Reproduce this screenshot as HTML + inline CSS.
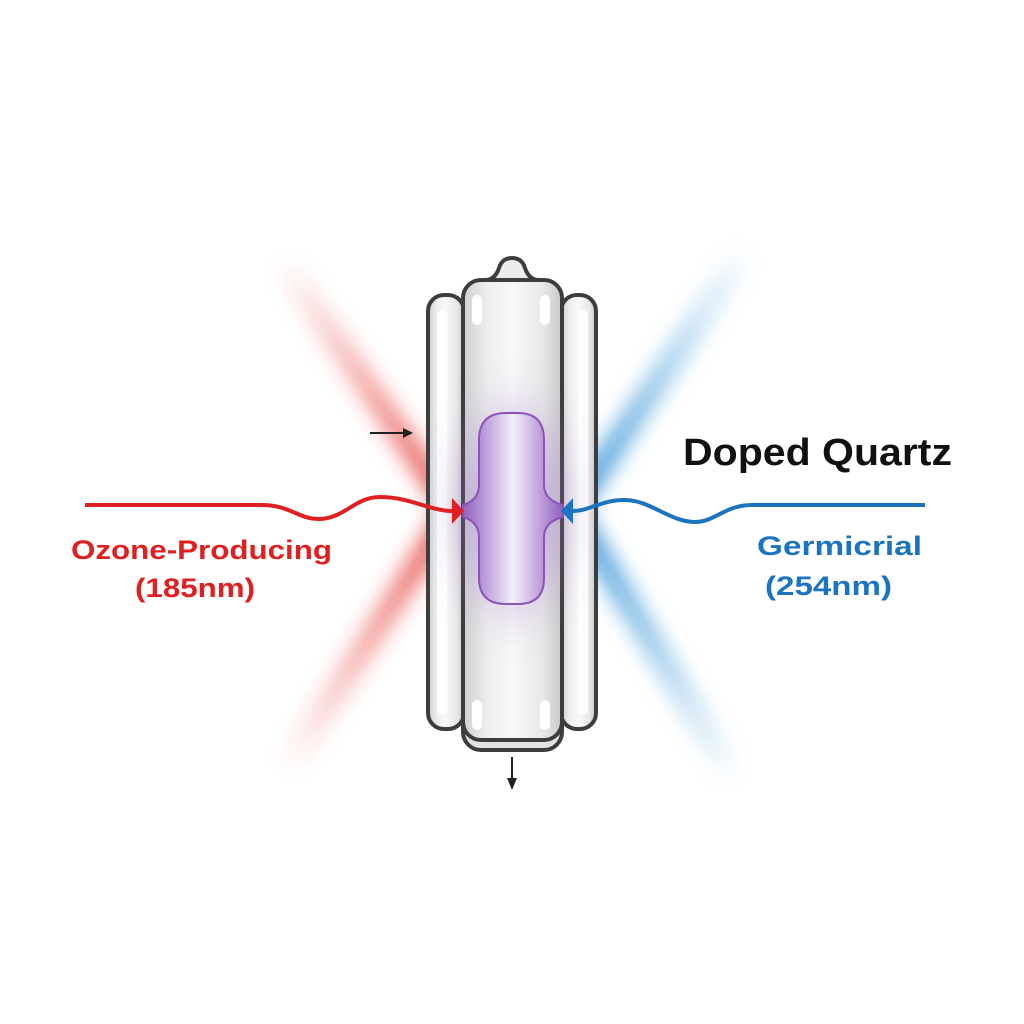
<!DOCTYPE html>
<html><head><style>
html,body{margin:0;padding:0;background:#fff;}
svg{display:block;}
</style></head><body>
<svg width="1024" height="1024" viewBox="0 0 1024 1024" xmlns="http://www.w3.org/2000/svg">
<defs>
<filter id="b" x="-50%" y="-50%" width="200%" height="200%"><feGaussianBlur stdDeviation="10"/></filter>
<filter id="b2" x="-50%" y="-50%" width="200%" height="200%"><feGaussianBlur stdDeviation="14"/></filter>
<linearGradient id="rU" x1="280" y1="260" x2="450" y2="505" gradientUnits="userSpaceOnUse"><stop offset="0" stop-color="#e53935" stop-opacity="0"/><stop offset="1" stop-color="#e53935" stop-opacity="0.9"/></linearGradient>
<linearGradient id="rD" x1="285" y1="770" x2="450" y2="515" gradientUnits="userSpaceOnUse"><stop offset="0" stop-color="#e53935" stop-opacity="0"/><stop offset="1" stop-color="#e53935" stop-opacity="0.9"/></linearGradient>
<linearGradient id="bU" x1="745" y1="250" x2="575" y2="505" gradientUnits="userSpaceOnUse"><stop offset="0" stop-color="#1e88d0" stop-opacity="0"/><stop offset="1" stop-color="#1e88d0" stop-opacity="0.9"/></linearGradient>
<linearGradient id="bD" x1="735" y1="780" x2="575" y2="515" gradientUnits="userSpaceOnUse"><stop offset="0" stop-color="#1e88d0" stop-opacity="0"/><stop offset="1" stop-color="#1e88d0" stop-opacity="0.9"/></linearGradient>
<linearGradient id="tube" x1="0" y1="0" x2="1" y2="0"><stop offset="0" stop-color="#cfcfcf"/><stop offset="0.25" stop-color="#eeeeee"/><stop offset="0.5" stop-color="#f8f8f8"/><stop offset="0.8" stop-color="#e8e8e8"/><stop offset="1" stop-color="#c8c8c8"/></linearGradient>
<linearGradient id="pur" x1="0" y1="0" x2="1" y2="0"><stop offset="0" stop-color="#9060c0"/><stop offset="0.5" stop-color="#f4eefa"/><stop offset="1" stop-color="#9060c0"/></linearGradient>
<radialGradient id="glow" cx="0.5" cy="0.5" r="0.5"><stop offset="0" stop-color="#a070d0" stop-opacity="0.7"/><stop offset="1" stop-color="#a070d0" stop-opacity="0"/></radialGradient>
</defs>

<g filter="url(#b)">
<line x1="280" y1="260" x2="450" y2="505" stroke="url(#rU)" stroke-width="22"/>
<line x1="285" y1="770" x2="450" y2="515" stroke="url(#rD)" stroke-width="22"/>
<line x1="745" y1="250" x2="575" y2="505" stroke="url(#bU)" stroke-width="22"/>
<line x1="735" y1="780" x2="575" y2="515" stroke="url(#bD)" stroke-width="22"/>
</g>

<rect x="428" y="295" width="36" height="434" rx="16" fill="url(#tube)" stroke="#3d3d3d" stroke-width="4"/>
<rect x="437" y="310" width="10" height="405" rx="5" fill="#fff" opacity="0.85"/>
<rect x="561" y="295" width="35" height="434" rx="16" fill="url(#tube)" stroke="#3d3d3d" stroke-width="4"/>
<rect x="578" y="310" width="10" height="405" rx="5" fill="#fff" opacity="0.85"/>

<rect x="463" y="285" width="99" height="465" rx="18" fill="#e2e2e2" stroke="#3d3d3d" stroke-width="4"/>
<path d="M485 280 Q495 280 499 268 Q502 258 512 258 Q522 258 525 268 Q529 280 539 280" fill="#ececec" stroke="#3d3d3d" stroke-width="4"/>
<rect x="463" y="280" width="99" height="460" rx="18" fill="url(#tube)" stroke="#3d3d3d" stroke-width="4"/>
<ellipse cx="512" cy="510" rx="75" ry="135" fill="url(#glow)" filter="url(#b2)"/>
<rect x="472" y="295" width="10" height="30" rx="5" fill="#fff"/>
<rect x="540" y="295" width="10" height="30" rx="5" fill="#fff"/>
<rect x="472" y="700" width="10" height="30" rx="5" fill="#fff"/>
<rect x="540" y="700" width="10" height="30" rx="5" fill="#fff"/>

<path d="M479 440 Q479 413 506 413 L518 413 Q544 413 544 440 L544 485 Q544 500 563 505 L563 517 Q544 522 544 537 L544 578 Q544 604 518 604 L506 604 Q479 604 479 578 L479 537 Q479 522 463 517 L463 505 Q479 500 479 485 Z" fill="url(#pur)" stroke="#8a55b8" stroke-width="2"/>

<path d="M85 505 L262 505 C290 505 300 520 320 519 C345 518 355 497 380 497 C410 497 430 511 452 511" fill="none" stroke="#e02020" stroke-width="4"/>
<polygon points="452,498 464,511 452,524" fill="#e02020"/>
<path d="M925 505 L752 505 C725 505 715 522 695 522 C670 522 650 500 625 500 C600 500 590 511 573 511" fill="none" stroke="#1a74c0" stroke-width="4"/>
<polygon points="573,498 561,511 573,524" fill="#1a74c0"/>

<line x1="370" y1="433" x2="405" y2="433" stroke="#222" stroke-width="2"/>
<polygon points="403,428 413,433 403,438" fill="#222"/>
<line x1="512" y1="757" x2="512" y2="780" stroke="#222" stroke-width="2"/>
<polygon points="507,778 512,790 517,778" fill="#222"/>

<text x="683" y="465" textLength="269" lengthAdjust="spacingAndGlyphs" font-family="Liberation Sans, sans-serif" font-weight="bold" font-size="38" fill="#111">Doped Quartz</text>
<text x="71" y="559" textLength="261" lengthAdjust="spacingAndGlyphs" font-family="Liberation Sans, sans-serif" font-weight="bold" font-size="27" fill="#e02020">Ozone-Producing</text>
<text x="135" y="597" textLength="120" lengthAdjust="spacingAndGlyphs" font-family="Liberation Sans, sans-serif" font-weight="bold" font-size="27" fill="#e02020">(185nm)</text>
<text x="757" y="555" textLength="165" lengthAdjust="spacingAndGlyphs" font-family="Liberation Sans, sans-serif" font-weight="bold" font-size="27" fill="#1a74c0">Germicrial</text>
<text x="765" y="595" textLength="127" lengthAdjust="spacingAndGlyphs" font-family="Liberation Sans, sans-serif" font-weight="bold" font-size="27" fill="#1a74c0">(254nm)</text>
</svg>
</body></html>
